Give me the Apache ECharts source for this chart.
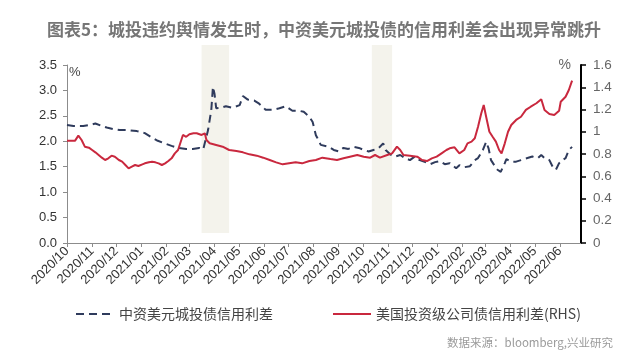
<!DOCTYPE html>
<html>
<head>
<meta charset="utf-8">
<script src="https://cdn.jsdelivr.net/npm/echarts@6/dist/echarts.min.js"></script>
<style>
html,body{margin:0;padding:0;background:#fff;}
#c{width:640px;height:355px;}
</style>
</head>
<body>
<div id="c"></div>
<script>
const titleText = '图表5：城投违约舆情发生时，中资美元城投债的信用利差会出现异常跳升';
const sourceText = '数据来源：bloomberg,兴业研究';
const seriesNames = ['中资美元城投债信用利差', '美国投资级公司债信用利差(RHS)'];

const blueDates = ['2020-10-01','2020-10-09','2020-10-21','2020-10-29','2020-11-05','2020-11-13','2020-11-19','2020-11-27','2020-12-05','2020-12-15','2020-12-26','2021-01-05','2021-01-13','2021-01-21','2021-01-29','2021-02-07','2021-02-15','2021-02-25','2021-03-05','2021-03-13','2021-03-18','2021-03-24','2021-03-28','2021-03-30','2021-04-01','2021-04-03','2021-04-09','2021-04-15','2021-04-23','2021-05-02','2021-05-06','2021-05-12','2021-05-20','2021-05-26','2021-06-03','2021-06-12','2021-06-20','2021-06-28','2021-07-06','2021-07-14','2021-07-20','2021-07-27','2021-07-31','2021-08-04','2021-08-06','2021-08-10','2021-08-20','2021-08-26','2021-09-01','2021-09-07','2021-09-13','2021-09-20','2021-09-26','2021-10-02','2021-10-08','2021-10-14','2021-10-20','2021-10-26','2021-10-29','2021-11-04','2021-11-10','2021-11-16','2021-11-22','2021-11-28','2021-12-04','2021-12-10','2021-12-17','2021-12-23','2021-12-29','2022-01-04','2022-01-10','2022-01-16','2022-01-24','2022-01-28','2022-02-03','2022-02-10','2022-02-16','2022-02-20','2022-02-26','2022-03-02','2022-03-05','2022-03-08','2022-03-12','2022-03-16','2022-03-20','2022-03-25','2022-03-27','2022-04-02','2022-04-08','2022-04-14','2022-04-22','2022-04-28','2022-05-05','2022-05-09','2022-05-13','2022-05-19','2022-05-23','2022-05-27','2022-05-31','2022-06-04','2022-06-08','2022-06-12','2022-06-16'];
const blueValues = [2.32,2.30,2.30,2.32,2.35,2.30,2.27,2.24,2.22,2.22,2.20,2.16,2.08,2.01,1.96,1.91,1.87,1.85,1.85,1.87,1.84,2.22,2.62,3.07,2.93,2.65,2.66,2.69,2.66,2.71,2.89,2.82,2.80,2.74,2.62,2.62,2.65,2.69,2.60,2.60,2.58,2.48,2.38,2.12,2.06,1.93,1.89,1.83,1.80,1.87,1.85,1.89,1.87,1.83,1.80,1.83,1.86,1.96,1.83,1.74,1.70,1.73,1.67,1.63,1.70,1.63,1.59,1.55,1.59,1.61,1.55,1.57,1.47,1.53,1.49,1.51,1.63,1.67,1.83,1.99,1.86,1.63,1.53,1.44,1.40,1.57,1.65,1.60,1.60,1.63,1.67,1.70,1.67,1.73,1.67,1.63,1.50,1.44,1.57,1.63,1.67,1.83,1.89];

const redDates = ['2020-10-01','2020-10-11','2020-10-15','2020-10-19','2020-10-23','2020-10-28','2020-11-01','2020-11-05','2020-11-09','2020-11-13','2020-11-17','2020-11-21','2020-11-25','2020-11-29','2020-12-04','2020-12-08','2020-12-12','2020-12-16','2020-12-20','2020-12-24','2020-12-28','2021-01-02','2021-01-05','2021-01-10','2021-01-14','2021-01-18','2021-01-22','2021-01-26','2021-01-30','2021-02-03','2021-02-07','2021-02-11','2021-02-15','2021-02-17','2021-02-21','2021-02-25','2021-03-01','2021-03-06','2021-03-10','2021-03-16','2021-03-20','2021-03-22','2021-03-26','2021-04-03','2021-04-11','2021-04-19','2021-04-28','2021-05-06','2021-05-14','2021-05-23','2021-05-31','2021-06-08','2021-06-16','2021-06-24','2021-07-02','2021-07-10','2021-07-18','2021-07-27','2021-08-04','2021-08-12','2021-08-22','2021-08-30','2021-09-07','2021-09-15','2021-09-24','2021-10-02','2021-10-10','2021-10-16','2021-10-22','2021-10-31','2021-11-06','2021-11-12','2021-11-16','2021-11-20','2021-11-28','2021-12-07','2021-12-13','2021-12-19','2021-12-25','2021-12-31','2022-01-06','2022-01-12','2022-01-16','2022-01-22','2022-01-28','2022-02-03','2022-02-07','2022-02-12','2022-02-16','2022-02-20','2022-02-24','2022-02-27','2022-03-02','2022-03-06','2022-03-10','2022-03-14','2022-03-18','2022-03-21','2022-03-25','2022-03-29','2022-04-02','2022-04-08','2022-04-14','2022-04-20','2022-04-26','2022-05-03','2022-05-09','2022-05-13','2022-05-19','2022-05-25','2022-05-31','2022-06-02','2022-06-08','2022-06-12','2022-06-14','2022-06-16'];
const redValues = [0.920,0.920,0.965,0.926,0.866,0.857,0.836,0.815,0.791,0.767,0.746,0.761,0.785,0.776,0.746,0.731,0.701,0.671,0.686,0.701,0.692,0.707,0.716,0.725,0.731,0.725,0.716,0.701,0.716,0.737,0.761,0.806,0.836,0.881,0.971,0.955,0.977,0.986,0.986,0.971,0.986,0.926,0.896,0.881,0.866,0.836,0.827,0.815,0.797,0.785,0.767,0.746,0.725,0.707,0.716,0.725,0.716,0.737,0.746,0.767,0.755,0.746,0.761,0.776,0.791,0.776,0.767,0.791,0.767,0.791,0.806,0.866,0.836,0.791,0.785,0.776,0.746,0.737,0.761,0.776,0.806,0.836,0.851,0.860,0.806,0.836,0.896,0.911,0.941,1.045,1.166,1.240,1.135,1.000,0.955,0.911,0.836,0.806,0.896,1.000,1.061,1.106,1.135,1.196,1.225,1.256,1.292,1.196,1.160,1.151,1.189,1.270,1.315,1.375,1.391,1.459];

const bandStarts = ['2021-03-16', '2021-10-12'];
const bandEnds = ['2021-04-19', '2021-11-06'];

const xMin = '2020-10-01';
const xMax = '2022-06-27';

const chart = echarts.init(document.getElementById('c'), null, {renderer: 'canvas'});
const DAY = 86400000;
const fmtMonth = v => { const d = new Date(v); return d.getFullYear() + '/' + String(d.getMonth() + 1).padStart(2, '0'); };

const option = {
  backgroundColor: '#fff',
  animation: false,
  title: [{
    text: titleText, left: 42, top: 16,
    textStyle: {fontFamily: 'Noto Sans CJK SC', fontSize: 17, fontWeight: 'bold', color: '#767676'}
  }, {
    text: sourceText, right: 22, top: 332,
    textStyle: {fontFamily: 'Noto Sans CJK SC', fontSize: 11.5, fontWeight: 'normal', color: '#9a9a9a'}
  }],
  legend: {
    data: seriesNames, left: 70, top: 302, itemWidth: 38, itemHeight: 12, itemGap: 59,
    itemStyle: {opacity: 0},
    textStyle: {fontFamily: 'Noto Sans CJK SC', fontSize: 14, color: '#444'}
  },
  grid: [
    {left: 67, right: 59, top: 65, bottom: 112},
    {left: 67, right: 59, top: 45, bottom: 122}
  ],
  xAxis: [{
    type: 'time', gridIndex: 0, min: xMin, max: xMax,
    minInterval: 28 * DAY, maxInterval: 31 * DAY, splitNumber: 21,
    axisLine: {lineStyle: {color: '#8c8c8c', width: 1}},
    axisTick: {show: true, length: 4, lineStyle: {color: '#8c8c8c'}},
    splitLine: {show: false},
    axisLabel: {rotate: 45, margin: 6, fontSize: 13, color: '#333', fontFamily: 'Liberation Sans', formatter: fmtMonth, showMaxLabel: false, hideOverlap: false}
  }, {
    type: 'time', gridIndex: 1, min: xMin, max: xMax, show: false
  }],
  yAxis: [{
    type: 'value', gridIndex: 0, min: 0, max: 3.5, interval: 0.5, position: 'left',
    name: '%', nameLocation: 'end', nameGap: -7,
    nameTextStyle: {align: 'left', verticalAlign: 'middle', padding: [0, 0, 0, 2], fontSize: 13, color: '#444', fontFamily: 'Liberation Sans'},
    axisLine: {show: true, lineStyle: {color: '#8c8c8c', width: 1}},
    axisTick: {show: true, length: 4, lineStyle: {color: '#8c8c8c'}},
    splitLine: {show: false},
    axisLabel: {margin: 10, fontSize: 13, color: '#333', fontFamily: 'Liberation Sans', formatter: v => v.toFixed(1)}
  }, {
    type: 'value', gridIndex: 0, min: 0, max: 1.6, interval: 0.2, position: 'right',
    name: '%', nameLocation: 'end', nameGap: 0,
    nameTextStyle: {align: 'right', verticalAlign: 'middle', padding: [0, 10, 0, 0], fontSize: 14, color: '#666', fontFamily: 'Liberation Sans'},
    axisLine: {show: true, lineStyle: {color: '#000', width: 2}},
    axisTick: {show: true, length: 5, lineStyle: {color: '#000', width: 1.5}},
    splitLine: {show: false},
    axisLabel: {margin: 12, fontSize: 13.5, color: '#666', fontFamily: 'Liberation Sans', formatter: v => String(parseFloat(v.toFixed(1)))}
  }, {
    type: 'value', gridIndex: 1, min: 0, max: 1, show: false
  }],
  series: [{
    name: 'bands', type: 'line', xAxisIndex: 1, yAxisIndex: 2, data: [], z: 0, silent: true,
    markArea: {
      silent: true,
      itemStyle: {color: '#f4f3ec', opacity: 1},
      data: bandStarts.map((s, i) => [{xAxis: s}, {xAxis: bandEnds[i]}])
    }
  }, {
    name: seriesNames[0], type: 'line', xAxisIndex: 0, yAxisIndex: 0,
    data: blueDates.map((d, i) => [d, blueValues[i]]),
    symbol: 'none', showSymbol: false, z: 3,
    lineStyle: {color: '#2f3b5c', width: 2, type: [8, 5]},
    itemStyle: {color: '#2f3b5c'}
  }, {
    name: seriesNames[1], type: 'line', xAxisIndex: 0, yAxisIndex: 1,
    data: redDates.map((d, i) => [d, redValues[i]]),
    symbol: 'none', showSymbol: false, z: 4,
    lineStyle: {color: '#c9283e', width: 2},
    itemStyle: {color: '#c9283e'}
  }]
};
chart.setOption(option);
</script>
</body>
</html>
